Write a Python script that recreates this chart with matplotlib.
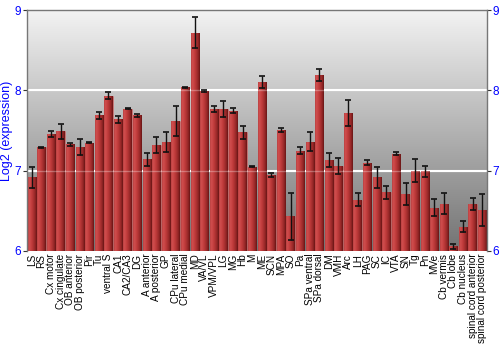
import numpy as np
import matplotlib
matplotlib.use("Agg")
import matplotlib.pyplot as plt
from matplotlib.colors import LinearSegmentedColormap

plt.rcParams['font.family'] = ['Liberation Sans', 'DejaVu Sans']

regions = ["LS", "RS", "Cx motor", "Cx cingulate", "OB anterior", "OB posterior", "Pir", "Tu",
           "ventral S", "CA1", "CA2/CA3", "DG", "A anterior", "A posterior", "GP", "CPu lateral",
           "CPu medial", "MD", "VA/VL", "VPM/VPL", "LG", "MG", "Hb", "M", "ME", "SCN", "MPA", "SO",
           "Pa", "SPa ventral", "SPa dorsal", "DM", "VMH", "Arc", "LH", "PAG", "SC", "IC", "VTA",
           "SN", "Tg", "Pn", "MVe", "Cb vermis", "Cb lobe", "Cb nucleus", "spinal cord anterior",
           "spinal cord posterior"]
values = [6.92, 7.29, 7.46, 7.49, 7.33, 7.30, 7.35, 7.69,
          7.935, 7.64, 7.77, 7.69, 7.14, 7.32, 7.36, 7.62,
          8.04, 8.72, 7.99, 7.77, 7.77, 7.745, 7.48, 7.05, 8.105, 6.95, 7.51, 6.43,
          7.25, 7.36, 8.19, 7.13, 7.06, 7.72, 6.64, 7.10, 6.92, 6.73, 7.21,
          6.71, 7.00, 6.99, 6.54, 6.59, 6.06, 6.30, 6.58,
          6.505]
errors = [0.13, 0.01, 0.04, 0.09, 0.02, 0.10, 0.01, 0.045,
          0.045, 0.04, 0.005, 0.02, 0.08, 0.095, 0.125, 0.19,
          0.005, 0.195, 0.01, 0.035, 0.10, 0.03, 0.08, 0.005, 0.08, 0.025, 0.025, 0.29,
          0.045, 0.12, 0.075, 0.085, 0.10, 0.16, 0.085, 0.03, 0.13, 0.08, 0.02,
          0.14, 0.14, 0.07, 0.11, 0.13, 0.03, 0.07, 0.075,
          0.20]
yticks = [6, 7, 8, 9]

fig = plt.figure(figsize=(5, 3.5), dpi=100)
ax = fig.add_axes([0.054, 0.283, 0.920, 0.688])

x = np.arange(len(regions))
ymin, ymax = 6, 9
xmin, xmax = -0.5, len(regions) - 0.5

# background vertical gradient
bg = LinearSegmentedColormap.from_list("bg", [(115/255,)*3, (243/255,)*3])
grad = np.linspace(0, 1, 256).reshape(-1, 1)
ax.imshow(grad, extent=[xmin, xmax, ymin, ymax], origin='lower', aspect='auto',
          cmap=bg, zorder=0, interpolation='bilinear')

for t in [7, 8]:
    ax.axhline(t, color='white', lw=1.5, zorder=1)

bars = ax.bar(x, np.array(values) - ymin, bottom=ymin, width=0.87,
              color='#b83a3a', edgecolor=(0.85, 0.45, 0.45, 0.5), lw=0.6, zorder=2)

barcm = LinearSegmentedColormap.from_list("bar", [
    (0.0, (0.72, 0.25, 0.25)),
    (0.15, (0.82, 0.31, 0.31)),
    (0.45, (0.75, 0.23, 0.23)),
    (0.8, (0.58, 0.15, 0.15)),
    (1.0, (0.40, 0.08, 0.08))])
hgrad = np.linspace(0, 1, 64).reshape(1, -1)
for r in bars:
    x0, y0, w, h = r.get_x(), r.get_y(), r.get_width(), r.get_height()
    im = ax.imshow(hgrad, extent=[x0, x0 + w, y0, y0 + h], aspect='auto', cmap=barcm,
                   zorder=2.1, interpolation='bilinear')
    im.set_clip_path(r)

for t in [7, 8]:
    ax.axhline(t, color='white', lw=1.0, alpha=0.3, zorder=2.5)

ax.errorbar(x, values, yerr=errors, fmt='none', ecolor='#111111', elinewidth=1.0,
            capsize=2.2, capthick=1.2, zorder=3)

ax.set_xlim(xmin, xmax)
ax.set_ylim(ymin, ymax)
ax.set_xticks(x)
ax.set_xticklabels(regions, rotation=90, fontsize=7.2)
ax.tick_params(axis='x', length=0, pad=2)
ax.set_yticks(yticks)
ax.set_yticklabels([str(t) for t in yticks])
ax.tick_params(axis='y', colors='#333333', labelcolor='blue', labelsize=8.5, length=3,
               left=True, right=True, labelright=True, pad=1)
ax.set_ylabel("Log2 (expression)", color='blue', fontsize=9, labelpad=1)

for s in ['left', 'right', 'top']:
    ax.spines[s].set_color('#777777')
    ax.spines[s].set_linewidth(1.0)
ax.spines['bottom'].set_visible(False)

fig.savefig("out.png", dpi=100)
